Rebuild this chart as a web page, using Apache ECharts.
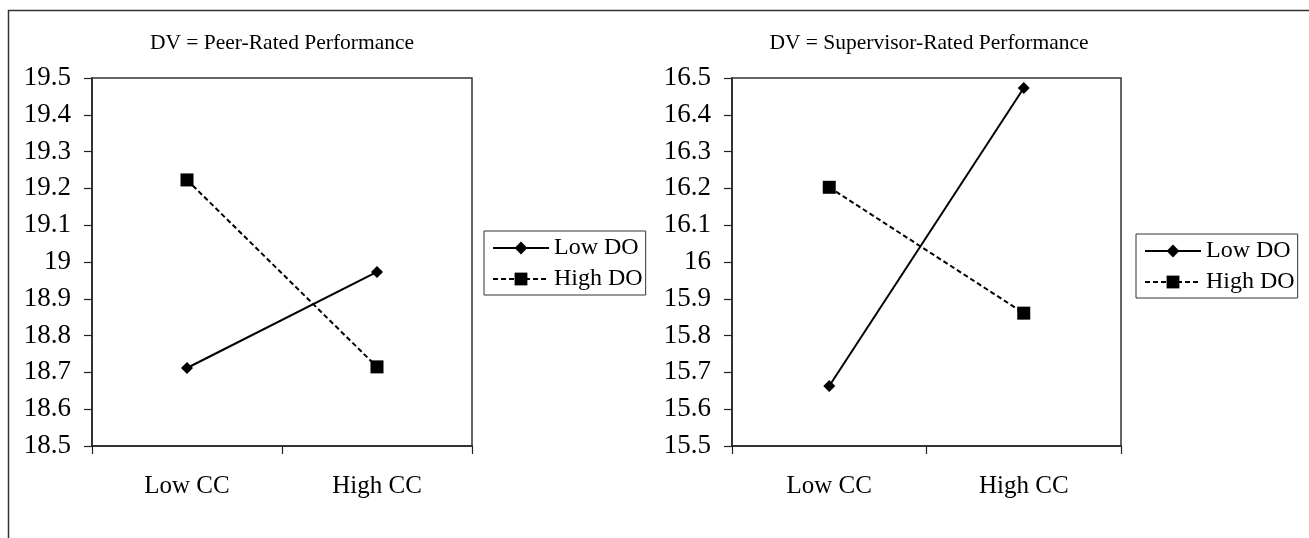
<!DOCTYPE html>
<html>
<head>
<meta charset="utf-8">
<script src="https://cdn.jsdelivr.net/npm/echarts@6/dist/echarts.min.js"></script>
<style>
html,body{margin:0;padding:0;background:#fff;}
#chart{width:1309px;height:538px;}
</style>
</head>
<body>
<div id="chart"></div>
<script>
var categories = ['Low CC', 'High CC'];
var seriesNames = ['Low DO', 'High DO'];
var peerLowDO = [18.712, 18.973];
var peerHighDO = [19.223, 18.715];
var supLowDO = [15.663, 16.473];
var supHighDO = [16.203, 15.861];
var peerTicks = {min: 18.5, max: 19.5, interval: 0.1};
var supTicks = {min: 15.5, max: 16.5, interval: 0.1};
var titles = ['DV = Peer-Rated Performance', 'DV = Supervisor-Rated Performance'];

var FONT = "'Liberation Serif','Times New Roman',serif";
var chart = echarts.init(document.getElementById('chart'), null, {renderer: 'canvas'});

function xAx(gi) {
  return {
    type: 'category', gridIndex: gi, data: categories, boundaryGap: true,
    axisLine: {lineStyle: {color: '#222', width: 1.5}},
    axisTick: {show: true, length: 8, lineStyle: {color: '#222', width: 1.2}},
    axisLabel: {color: '#000', fontFamily: FONT, fontSize: 25, margin: 28},
    splitLine: {show: false}
  };
}
function yAx(gi, t) {
  return {
    type: 'value', gridIndex: gi, min: t.min, max: t.max, interval: t.interval,
    axisLine: {show: true, lineStyle: {color: '#222', width: 1.5}},
    axisTick: {show: true, length: 8, lineStyle: {color: '#222', width: 1.2}},
    axisLabel: {color: '#000', fontFamily: FONT, fontSize: 27, margin: 21,
      formatter: function (v) { return String(Math.round(v * 10) / 10); }},
    splitLine: {show: false}
  };
}
function lowSeries(gi, data) {
  return {
    name: seriesNames[0], type: 'line', xAxisIndex: gi, yAxisIndex: gi, data: data,
    symbol: 'diamond', symbolSize: 12,
    lineStyle: {color: '#000', width: 2, type: 'solid'},
    itemStyle: {color: '#000'}, animation: false
  };
}
function highSeries(gi, data) {
  return {
    name: seriesNames[1], type: 'line', xAxisIndex: gi, yAxisIndex: gi, data: data,
    symbol: 'rect', symbolSize: 13,
    lineStyle: {color: '#000', width: 2, type: [5, 3]},
    itemStyle: {color: '#000'}, animation: false
  };
}
function legend(left, top) {
  return {
    left: left, top: top, orient: 'vertical', data: seriesNames,
    itemWidth: 56, itemHeight: 16, itemGap: 7,
    padding: [5, 3, 4, 8],
    borderColor: '#333', borderWidth: 1, backgroundColor: '#fff',
    lineStyle: {width: 2},
    textStyle: {color: '#000', fontFamily: FONT, fontSize: 24, lineHeight: 24},
    selectedMode: false
  };
}

chart.setOption({
  backgroundColor: '#fff',
  animation: false,
  title: [
    {text: titles[0], left: 277, top: 38, textAlign: 'center', textVerticalAlign: 'middle',
      textStyle: {fontFamily: FONT, fontSize: 21.5, fontWeight: 'normal', color: '#000'}},
    {text: titles[1], left: 924, top: 38, textAlign: 'center', textVerticalAlign: 'middle',
      textStyle: {fontFamily: FONT, fontSize: 21.5, fontWeight: 'normal', color: '#000'}}
  ],
  graphic: [{
    type: 'rect', silent: true, z: -1,
    shape: {x: 8.5, y: 10.5, width: 1400, height: 600},
    style: {fill: 'none', stroke: '#333', lineWidth: 1.5}
  }],
  grid: [
    {left: 92, top: 78, width: 380, height: 368, show: true, borderColor: '#333', borderWidth: 1.5, backgroundColor: 'transparent'},
    {left: 732, top: 78, width: 389, height: 368, show: true, borderColor: '#333', borderWidth: 1.5, backgroundColor: 'transparent'}
  ],
  xAxis: [xAx(0), xAx(1)],
  yAxis: [yAx(0, peerTicks), yAx(1, supTicks)],
  legend: [legend(484, 231), legend(1136, 234)],
  series: [
    lowSeries(0, peerLowDO), highSeries(0, peerHighDO),
    lowSeries(1, supLowDO), highSeries(1, supHighDO)
  ]
});
</script>
</body>
</html>
